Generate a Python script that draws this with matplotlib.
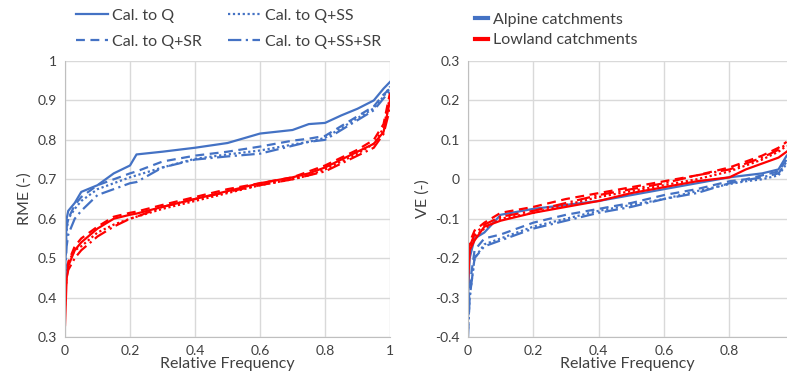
import matplotlib.pyplot as plt
from matplotlib.lines import Line2D

plt.rcParams['font.family'] = ['Lato', 'DejaVu Sans']

BLUE = '#4472C4'
RED = '#FF0000'
GRID = '#D9D9D9'

# left panel: RME vs relative frequency
rme_x = [0, 0.005, 0.01, 0.03, 0.05, 0.1, 0.15, 0.2, 0.22, 0.3, 0.4, 0.5,
         0.6, 0.7, 0.75, 0.8, 0.85, 0.9, 0.95, 0.98, 1.0]
rme_alp_q = [0.46, 0.6, 0.62, 0.64, 0.668, 0.685, 0.715, 0.735, 0.763, 0.77, 0.78, 0.792,
             0.816, 0.825, 0.84, 0.843, 0.862, 0.879, 0.9, 0.93, 0.947]
rme_alp_ss = [0.47, 0.57, 0.6, 0.625, 0.645, 0.675, 0.69, 0.705, 0.71, 0.73, 0.752, 0.763,
              0.773, 0.788, 0.795, 0.805, 0.83, 0.855, 0.88, 0.91, 0.935]
rme_alp_sr = [0.5, 0.58, 0.6, 0.635, 0.655, 0.685, 0.7, 0.715, 0.72, 0.745, 0.76, 0.77,
              0.783, 0.798, 0.803, 0.81, 0.835, 0.86, 0.885, 0.915, 0.93]
rme_alp_sssr = [0.45, 0.53, 0.56, 0.6, 0.62, 0.66, 0.675, 0.69, 0.693, 0.73, 0.75, 0.758,
                0.765, 0.785, 0.795, 0.8, 0.825, 0.85, 0.875, 0.905, 0.925]
rme_low_q = [0.33, 0.45, 0.48, 0.52, 0.54, 0.575, 0.6, 0.61, 0.613, 0.63, 0.65, 0.67,
             0.69, 0.705, 0.715, 0.73, 0.75, 0.77, 0.79, 0.82, 0.9]
rme_low_ss = [0.38, 0.47, 0.49, 0.52, 0.53, 0.565, 0.585, 0.6, 0.605, 0.625, 0.645, 0.665,
              0.685, 0.7, 0.71, 0.725, 0.745, 0.765, 0.79, 0.83, 0.91]
rme_low_sr = [0.4, 0.46, 0.49, 0.53, 0.55, 0.58, 0.605, 0.615, 0.618, 0.635, 0.655, 0.675,
              0.69, 0.705, 0.72, 0.735, 0.755, 0.775, 0.8, 0.84, 0.92]
rme_low_sssr = [0.39, 0.45, 0.47, 0.5, 0.52, 0.555, 0.58, 0.6, 0.605, 0.63, 0.65, 0.668,
                0.685, 0.7, 0.71, 0.72, 0.74, 0.76, 0.78, 0.815, 0.88]

# right panel: VE vs relative frequency
ve_x = [0, 0.005, 0.02, 0.05, 0.1, 0.2, 0.3, 0.4, 0.5, 0.6, 0.7, 0.8, 0.85, 0.9, 0.95, 0.975]
ve_alp_q = [-0.3, -0.2, -0.15, -0.135, -0.09, -0.075, -0.065, -0.055, -0.04, -0.025,
            -0.01, 0.005, 0.01, 0.015, 0.025, 0.06]
ve_alp_ss = [-0.38, -0.3, -0.2, -0.165, -0.15, -0.12, -0.1, -0.08, -0.065, -0.05,
             -0.03, -0.012, -0.005, 0.0, 0.01, 0.04]
ve_alp_sr = [-0.35, -0.27, -0.18, -0.15, -0.14, -0.11, -0.09, -0.075, -0.06, -0.04,
             -0.025, -0.005, 0.0, 0.01, 0.02, 0.05]
ve_alp_sssr = [-0.4, -0.3, -0.2, -0.17, -0.155, -0.125, -0.105, -0.085, -0.07, -0.05,
               -0.035, -0.01, -0.002, 0.005, 0.015, 0.045]
ve_low_q = [-0.26, -0.18, -0.155, -0.12, -0.105, -0.085, -0.07, -0.055, -0.035, -0.02,
            -0.005, 0.005, 0.025, 0.04, 0.055, 0.07]
ve_low_ss = [-0.24, -0.17, -0.145, -0.125, -0.1, -0.085, -0.065, -0.045, -0.03, -0.015,
             0.0, 0.02, 0.035, 0.05, 0.07, 0.085]
ve_low_sr = [-0.22, -0.16, -0.13, -0.11, -0.085, -0.07, -0.05, -0.035, -0.02, -0.005,
             0.01, 0.03, 0.045, 0.06, 0.08, 0.095]
ve_low_sssr = [-0.23, -0.17, -0.14, -0.115, -0.095, -0.08, -0.06, -0.04, -0.025, -0.01,
               0.01, 0.025, 0.04, 0.055, 0.075, 0.09]

# Q, Q+SS, Q+SR, Q+SS+SR
styles = ['-', (0, (1, 1.2)), (0, (4, 2.5)), (0, (6, 2, 1, 2))]

fig = plt.figure(figsize=(7.87, 3.78), dpi=100)
ax1 = fig.add_axes([0.0826, 0.1085, 0.413, 0.7301])
ax2 = fig.add_axes([0.5947, 0.1085, 0.4053, 0.7301])


def style_axes(ax, xticks, xlim, ylim, yticks, ylabel):
    ax.set_xlim(*xlim)
    ax.set_ylim(*ylim)
    ax.set_xticks(xticks)
    ax.set_xticklabels([('%g' % t) for t in xticks])
    ax.set_yticks(yticks)
    ax.set_yticklabels([('%g' % t) for t in yticks])
    ax.grid(True, color=GRID, linewidth=1)
    ax.set_axisbelow(True)
    for s in ['top', 'right']:
        ax.spines[s].set_visible(False)
    for s in ['left', 'bottom']:
        ax.spines[s].set_color('#BFBFBF')
    ax.tick_params(length=0, labelsize=10, colors='#404040', pad=6)
    ax.set_xlabel('Relative Frequency', fontsize=11.5, color='#404040', labelpad=0)
    ax.set_ylabel(ylabel, fontsize=11.5, color='#404040', labelpad=4)


left_blue = [rme_alp_q, rme_alp_ss, rme_alp_sr, rme_alp_sssr]
left_red = [rme_low_q, rme_low_ss, rme_low_sr, rme_low_sssr]
right_blue = [ve_alp_q, ve_alp_ss, ve_alp_sr, ve_alp_sssr]
right_red = [ve_low_q, ve_low_ss, ve_low_sr, ve_low_sssr]

for ys, ls in zip(left_red, styles):
    ax1.plot(rme_x, ys, color=RED, linestyle=ls, linewidth=1.6)
for ys, ls in zip(left_blue, styles):
    ax1.plot(rme_x, ys, color=BLUE, linestyle=ls, linewidth=1.6)
for ys, ls in zip(right_blue, styles):
    ax2.plot(ve_x, ys, color=BLUE, linestyle=ls, linewidth=1.6)
for ys, ls in zip(right_red, styles):
    ax2.plot(ve_x, ys, color=RED, linestyle=ls, linewidth=1.6)

style_axes(ax1, [0, 0.2, 0.4, 0.6, 0.8, 1], (0, 1), (0.3, 1.0),
           [0.3, 0.4, 0.5, 0.6, 0.7, 0.8, 0.9, 1.0], 'RME (-)')
style_axes(ax2, [0, 0.2, 0.4, 0.6, 0.8], (0, 0.976), (-0.4, 0.3),
           [-0.4, -0.3, -0.2, -0.1, 0, 0.1, 0.2, 0.3], 'VE (-)')

# legends
h1 = [Line2D([], [], color=BLUE, linestyle=styles[0], linewidth=1.6),
      Line2D([], [], color=BLUE, linestyle=styles[2], linewidth=1.6),
      Line2D([], [], color=BLUE, linestyle=styles[1], linewidth=1.6),
      Line2D([], [], color=BLUE, linestyle=styles[3], linewidth=1.6)]
fig.legend(h1, ['Cal. to Q', 'Cal. to Q+SR', 'Cal. to Q+SS', 'Cal. to Q+SS+SR'],
           ncol=2, loc='upper left', bbox_to_anchor=(0.078, 1.015), frameon=False,
           fontsize=11.5, handlelength=2.0, handletextpad=0.3, columnspacing=1.6,
           labelspacing=0.75, labelcolor='#404040')
h2 = [Line2D([], [], color=BLUE, linewidth=3), Line2D([], [], color=RED, linewidth=3)]
fig.legend(h2, ['Alpine catchments', 'Lowland catchments'], loc='upper left',
           bbox_to_anchor=(0.585, 1.005), frameon=False, fontsize=11.5,
           handlelength=0.8, handletextpad=0.35, labelspacing=0.4, labelcolor='#404040')

fig.savefig('out.png', dpi=100)
